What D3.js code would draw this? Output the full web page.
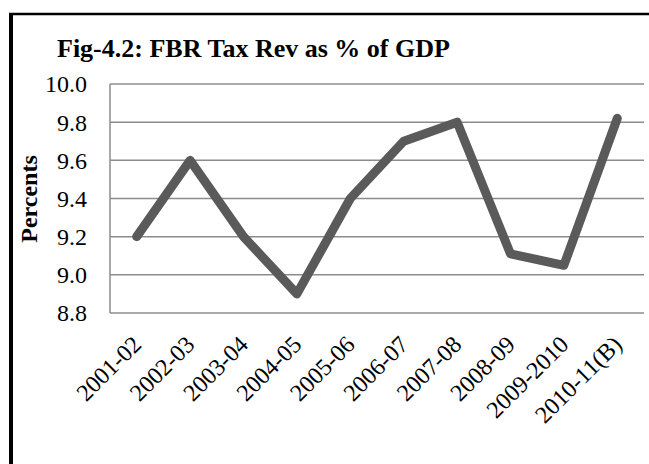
<!DOCTYPE html>
<html>
<head>
<meta charset="utf-8">
<script src="https://cdn.jsdelivr.net/npm/d3@7"></script>
<style>
  body { margin: 0; background: #fff; }
  svg { display: block; font-family: "Liberation Serif", "Times New Roman", serif; }
</style>
</head>
<body>
<svg id="chart" width="649" height="464"></svg>
<script>
var years = ["2001-02", "2002-03", "2003-04", "2004-05", "2005-06",
             "2006-07", "2007-08", "2008-09", "2009-2010", "2010-11(B)"];
var taxRev = [9.2, 9.6, 9.2, 8.9, 9.4, 9.7, 9.8, 9.11, 9.05, 9.82];
var yTicks = [8.8, 9.0, 9.2, 9.4, 9.6, 9.8, 10.0];

var plotLeft = 110, plotRight = 644, plotTop = 84, plotBottom = 313;

var svg = d3.select("#chart");

// outer frame (right and bottom edges fall outside the picture)
svg.append("line").attr("x1", 11).attr("x2", 11).attr("y1", 13).attr("y2", 470)
    .attr("stroke", "#000").attr("stroke-width", 4);
svg.append("line").attr("x1", 9).attr("x2", 660).attr("y1", 14).attr("y2", 14)
    .attr("stroke", "#000").attr("stroke-width", 2.5);

var x = d3.scaleBand().domain(years).range([plotLeft, plotRight]);
var y = d3.scaleLinear().domain([8.8, 10.0]).range([plotBottom, plotTop]);

// gridlines
svg.append("g").selectAll("line")
    .data(yTicks)
  .enter().append("line")
    .attr("x1", plotLeft).attr("x2", plotRight)
    .attr("y1", function(d) { return y(d); })
    .attr("y2", function(d) { return y(d); })
    .attr("stroke", "#8c8c8c").attr("stroke-width", 1.5);

// left axis line
svg.append("line").attr("x1", plotLeft).attr("x2", plotLeft)
    .attr("y1", plotTop).attr("y2", plotBottom)
    .attr("stroke", "#8c8c8c").attr("stroke-width", 1.5);

// y tick labels
svg.append("g").selectAll("text")
    .data(yTicks)
  .enter().append("text")
    .attr("x", 87)
    .attr("y", function(d) { return y(d); })
    .attr("dy", "0.35em")
    .attr("text-anchor", "end")
    .style("font-size", "24px")
    .text(function(d) { return d3.format(".1f")(d); });

// x labels, rotated
svg.append("g").selectAll("text")
    .data(years)
  .enter().append("text")
    .attr("transform", function(d) {
      return "translate(" + (x(d) + x.bandwidth() / 2 + 6) + ",346) rotate(-45)";
    })
    .attr("text-anchor", "end")
    .style("font-size", "24px")
    .text(function(d) { return d; });

// line
var line = d3.line()
    .x(function(d, i) { return x(years[i]) + x.bandwidth() / 2; })
    .y(function(d) { return y(d); });

svg.append("path")
    .datum(taxRev)
    .attr("d", line)
    .attr("fill", "none")
    .attr("stroke", "#5a5a5a")
    .attr("stroke-width", 9)
    .attr("stroke-linejoin", "round")
    .attr("stroke-linecap", "round");

// title
svg.append("text")
    .attr("x", 57).attr("y", 57)
    .style("font-size", "26px").style("font-weight", "bold")
    .text("Fig-4.2: FBR Tax Rev as % of GDP");

// y axis title
svg.append("text")
    .attr("transform", "translate(37,199) rotate(-90)")
    .attr("text-anchor", "middle")
    .style("font-size", "24px").style("font-weight", "bold")
    .text("Percents");
</script>
</body>
</html>
